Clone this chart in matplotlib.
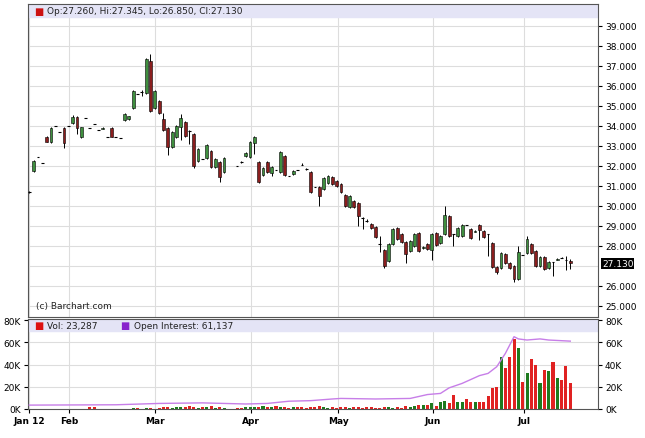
import numpy as np
import matplotlib.pyplot as plt
from matplotlib.patches import Rectangle

# candle data: trading-day index, open, high, low, close
idx = list(range(0, 46)) + list(range(48, 126))
opn = [30.7, 31.75, 32.45, 32.15, 33.45, 33.2, 34.0, 33.7, 33.9, 34.0,
       34.15, 34.45, 33.45, 34.4, 33.9, 34.1, 33.8, 33.85, 33.45, 33.9,
       33.45, 33.4, 34.3, 34.35, 34.9, 35.6, 35.7, 35.65, 37.25, 34.9,
       35.25, 34.35, 33.9, 32.95, 33.45, 33.95, 34.2, 33.75, 33.6, 32.25,
       32.35, 32.4, 32.75, 31.95, 32.2, 31.7,
       32.0, 32.2, 32.5, 32.45, 33.15, 32.2, 31.55, 32.2, 31.65, 31.8,
       31.7, 32.5, 31.5, 31.6, 31.8, 32.05, 31.85, 31.7, 30.95, 30.95,
       30.85, 31.15, 31.45, 31.25, 31.1, 30.55, 29.95, 30.25, 30.15, 29.4,
       29.25, 29.1, 28.95, 28.1, 27.8, 27.25, 28.1, 28.9, 28.6, 28.2,
       27.75, 28.0, 28.65, 27.9, 28.1, 27.8, 28.65, 28.15, 28.6, 29.5,
       28.6, 28.5, 28.5, 29.05, 28.85, 28.7, 29.05, 28.75, 28.6, 28.15,
       26.95, 26.9, 27.6, 27.15, 27.0, 26.35, 27.55, 27.65, 28.1, 27.75,
       27.0, 27.45, 26.9, 27.2, 27.3, 27.4, 27.3, 27.26]
hi = [30.75, 32.3, 32.45, 32.15, 33.5, 33.95, 34.0, 33.7, 33.95, 34.0,
      34.55, 34.5, 33.95, 34.4, 33.9, 34.1, 33.8, 33.95, 33.45, 33.95,
      33.45, 33.4, 34.65, 34.5, 35.8, 35.6, 35.8, 37.4, 37.6, 35.8,
      35.3, 34.65, 33.95, 33.75, 34.05, 34.6, 34.25, 33.8, 33.65, 32.9,
      32.35, 33.1, 32.8, 32.4, 32.25, 32.45,
      32.0, 32.25, 32.7, 33.25, 33.5, 32.25, 31.95, 32.25, 32.0, 31.8,
      32.75, 32.55, 31.5, 31.8, 31.8, 32.15, 31.9, 31.75, 30.95, 31.0,
      31.45, 31.55, 31.5, 31.3, 31.15, 30.6, 30.55, 30.3, 30.2, 29.45,
      29.35, 29.15, 29.0, 28.5, 27.85, 28.15, 28.9, 28.95, 28.65, 28.25,
      28.3, 28.65, 28.7, 28.0, 28.15, 28.65, 28.7, 28.55, 30.0, 29.55,
      28.6, 28.95, 29.1, 29.05, 28.9, 28.8, 29.1, 28.8, 28.6, 28.2,
      27.0, 27.7, 27.65, 27.2, 27.05, 28.0, 27.55, 28.5, 28.15, 27.8,
      27.5, 27.5, 27.25, 27.2, 27.4, 27.45, 27.5, 27.345]
lo = [30.65, 31.7, 32.45, 32.15, 33.2, 33.15, 34.0, 33.7, 32.9, 34.0,
      34.1, 33.6, 33.4, 34.4, 33.9, 34.1, 33.8, 33.85, 33.45, 33.45,
      33.45, 33.4, 34.25, 34.3, 34.85, 35.6, 35.5, 35.6, 34.7, 34.85,
      34.6, 33.75, 32.55, 32.9, 33.4, 33.3, 33.45, 33.1, 31.9, 32.2,
      32.35, 32.35, 31.9, 31.9, 31.2, 31.65,
      32.0, 32.15, 32.45, 32.4, 32.6, 31.15, 31.5, 31.65, 31.5, 31.8,
      31.65, 31.5, 31.5, 31.55, 31.8, 32.05, 31.8, 30.65, 30.95, 30.0,
      30.8, 31.1, 31.05, 30.95, 30.65, 29.95, 29.9, 29.9, 29.0, 28.85,
      29.2, 28.85, 28.4, 27.7, 26.9, 27.2, 28.05, 28.3, 28.15, 27.15,
      27.7, 27.95, 27.7, 27.85, 27.8, 27.3, 28.0, 28.1, 28.55, 28.45,
      28.0, 28.45, 28.45, 29.05, 28.35, 28.7, 28.3, 28.4, 27.5, 26.9,
      26.6, 26.85, 27.1, 26.85, 26.2, 26.3, 27.55, 27.6, 27.6, 26.95,
      26.95, 26.8, 26.85, 26.5, 27.3, 27.4, 26.8, 26.85]
cls = [30.7, 32.25, 32.45, 32.15, 33.2, 33.9, 34.0, 33.7, 33.15, 34.0,
       34.45, 33.9, 33.95, 34.4, 33.9, 34.1, 33.8, 33.9, 33.45, 33.45,
       33.45, 33.4, 34.6, 34.5, 35.75, 35.6, 35.7, 37.35, 34.75, 35.75,
       34.65, 33.8, 32.95, 33.7, 34.0, 34.4, 33.5, 33.75, 32.0, 32.85,
       32.35, 33.05, 31.95, 32.35, 31.45, 32.4,
       32.0, 32.2, 32.65, 33.2, 33.45, 31.2, 31.9, 31.7, 31.95, 31.8,
       32.7, 31.55, 31.5, 31.75, 31.8, 32.05, 31.85, 30.7, 30.95, 30.5,
       31.4, 31.5, 31.1, 31.0, 30.7, 30.0, 30.5, 29.95, 29.5, 29.4,
       29.25, 28.9, 28.45, 28.1, 27.0, 28.1, 28.85, 28.35, 28.2, 27.6,
       28.25, 28.6, 27.75, 27.95, 27.85, 28.6, 28.05, 28.5, 29.55, 28.5,
       28.6, 28.9, 29.05, 29.05, 28.4, 28.75, 28.8, 28.45, 28.6, 26.95,
       26.7, 27.65, 27.15, 26.9, 26.35, 27.7, 27.55, 28.35, 27.65, 27.0,
       27.45, 26.85, 27.2, 27.2, 27.35, 27.4, 27.3, 27.13]
vol = [0, 0, 0, 0, 0, 0, 0, 0, 0, 0, 0, 0, 0, 0, 2, 2, 0, 0, 0, 0,
       0, 0, 0, 0, 1, 1, 0, 1, 1, 0, 1, 2, 2, 1, 2, 2, 2, 3, 2, 1,
       2, 2, 3, 1, 2, 1,
       1, 1, 2, 2, 2, 2, 3, 2, 2, 3, 2, 2, 1, 2, 2, 2, 1, 2, 2, 3,
       2, 1, 2, 1, 2, 2, 1, 2,
       2, 1, 2, 2, 1, 1, 2, 2, 1, 2, 1, 3, 2, 3, 4, 4, 4, 5, 3, 6,
       7, 5, 13, 6, 6, 9, 6, 6, 6, 6, 12, 19, 20, 47, 37, 47, 63, 55,
       24, 32, 45, 40, 23, 35, 34, 42, 28, 26, 39, 23]
# open interest (K)
oi_idx = [0, 20, 30, 40, 50, 55, 60, 65, 70, 72, 80, 88, 92, 95, 97, 100,
          104, 106, 108, 110, 112, 113, 115, 118, 120, 125]
oi_val = [3.5, 3.8, 5.0, 5.5, 4.5, 5.0, 7.0, 7.5, 9.0, 9.5, 9.0, 9.5, 13,
          14, 19, 23, 30, 32, 38, 50, 65, 63, 62, 63, 62, 61]

month_pos = [0, 9.2, 29.1, 51.3, 71.4, 93.3, 114.3]
month_lbl = ['Jan 12', 'Feb', 'Mar', 'Apr', 'May', 'Jun', 'Jul']
price_ticks = [25, 26, 28, 29, 30, 31, 32, 33, 34, 35, 36, 37, 38, 39]

up_c, dn_c = '#3f8f3f', '#8b1e1e'
vup_c, vdn_c = '#1e7a1e', '#e02222'
band_c = '#e4e4f6'
W, H = 645, 439
fig = plt.figure(figsize=(W / 100, H / 100), dpi=100)
ax = fig.add_axes([28 / W, 1 - 318 / H, 570 / W, 313 / H])
axv = fig.add_axes([28 / W, 1 - 410 / H, 570 / W, 90 / H])

xlim = (-0.3, 131.4)
for a in (ax, axv):
    a.set_xlim(*xlim)
    for p in month_pos:
        a.axvline(p, color='#dddddd', lw=0.8, zorder=0)
    for s in a.spines.values():
        s.set_color('#555555')
        s.set_linewidth(0.8)

ax.set_ylim(24.45, 40.1)
for y in range(25, 40):
    ax.axhline(y, color='#dddddd', lw=0.8, zorder=0)
ax.axhspan(39.45, 40.1, color=band_c, zorder=1)

bw = 0.65
for i, o, h, l, c in zip(idx, opn, hi, lo, cls):
    ax.vlines(i, l, h, color='black', lw=0.7, zorder=2)
    if abs(c - o) < 0.02:
        ax.hlines(o, i - bw / 2, i + bw / 2, color='black', lw=0.8, zorder=3)
    else:
        col = up_c if c > o else dn_c
        ax.add_patch(Rectangle((i - bw / 2, min(o, c)), bw, abs(c - o),
                               facecolor=col, edgecolor='black', lw=0.4, zorder=3))

ax.yaxis.tick_right()
ax.set_yticks(price_ticks)
ax.set_yticklabels([f'{v:.3f}' for v in price_ticks], fontsize=6.5)
ax.tick_params(axis='y', length=3, pad=2)
ax.set_xticks([])
ax.text(132.3, cls[-1], f'{cls[-1]:.3f}', fontsize=6.5, color='white',
        ha='left', va='center', clip_on=False,
        bbox=dict(facecolor='black', edgecolor='none', pad=0.8), zorder=5)
ax.text(1.0, 39.77, '\u25A0', color='#cc1111', fontsize=7, va='center')
ax.text(4.2, 39.77, 'Op:27.260, Hi:27.345, Lo:26.850, Cl:27.130',
        fontsize=6.5, va='center', color='#222222')
ax.text(1.5, 25.0, '(c) Barchart.com', fontsize=6.5, va='center', color='#222222')

# volume pane
axv.set_ylim(0, 80.9)
for y in (20, 40, 60):
    axv.axhline(y, color='#dddddd', lw=0.8, zorder=0)
axv.axhspan(70, 80.9, color=band_c, zorder=1)
vcol = [vup_c if c > o else vdn_c for o, c in zip(opn, cls)]
axv.bar(idx, vol, width=0.7, color=vcol, zorder=2)
axv.plot(oi_idx, oi_val, color='#c77ee8', lw=1.0, zorder=3)
axv.set_yticks([0, 20, 40, 60, 80])
axv.set_yticklabels(['0K', '20K', '40K', '60K', '80K'], fontsize=6.5)
axv.tick_params(axis='y', labelleft=True, labelright=True, right=True,
                length=3, pad=2)
axv.set_xticks(month_pos)
axv.set_xticklabels(month_lbl, fontsize=6.5, fontweight='bold')
axv.tick_params(axis='x', length=3, pad=2)
axv.text(1.0, 75.5, '\u25A0', color='#dd1111', fontsize=7, va='center')
axv.text(4.2, 75.5, 'Vol: 23,287', fontsize=6.5, va='center', color='#222222')
axv.text(21.0, 75.5, '\u25A0', color='#8822cc', fontsize=7, va='center')
axv.text(24.2, 75.5, 'Open Interest: 61,137', fontsize=6.5, va='center',
         color='#222222')

fig.savefig('out.png', dpi=100, facecolor='white')
